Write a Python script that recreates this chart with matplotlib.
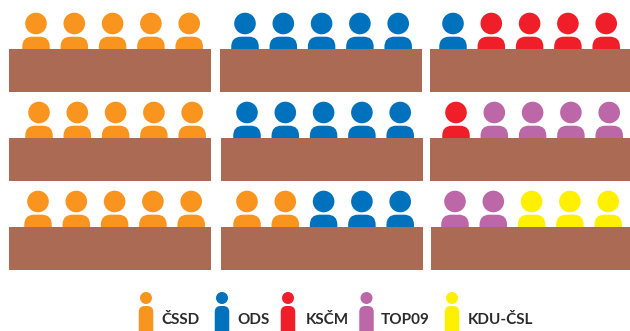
import matplotlib
matplotlib.use('Agg')
import matplotlib.pyplot as plt
from matplotlib.patches import Circle, FancyBboxPatch, Rectangle

plt.rcParams['font.family'] = ['Lato', 'DejaVu Sans']

# data
parties = ['ČSSD', 'ODS', 'KSČM', 'TOP09', 'KDU-ČSL']
colors = ['#F9951E', '#0071BC', '#F01E28', '#BC68A8', '#FFF000']
row1 = ['ČSSD'] * 5 + ['ODS'] * 5 + ['ODS'] * 1 + ['KSČM'] * 4
row2 = ['ČSSD'] * 5 + ['ODS'] * 5 + ['KSČM'] * 1 + ['TOP09'] * 4
row3 = ['ČSSD'] * 5 + ['ČSSD'] * 2 + ['ODS'] * 3 + ['TOP09'] * 2 + ['KDU-ČSL'] * 3
rows = [row1, row2, row3]
color_of = dict(zip(parties, colors))

# layout in pixels
table_color = '#AA6A54'
table_tops = [49, 138, 227]
table_lefts = [[9, 220, 430], [9, 221, 430], [9, 221, 431]]
first_seat = [[36, 245, 453], [39, 247, 456], [38, 247, 455]]
seat_step = 38.3
legend_x = [146, 222, 288, 366.5, 452]
label_x = [161, 237, 306, 381, 468]

fig = plt.figure(figsize=(6.3, 3.31), dpi=100)
ax = fig.add_axes([0, 0, 1, 1])
ax.set_xlim(0, 630)
ax.set_ylim(331, 0)
ax.axis('off')


def person(x, top, head_r, body_w, gap, body_h, round_r, color):
    ax.add_patch(Circle((x, top + head_r), head_r, fc=color, ec='none', zorder=2))
    ax.add_patch(FancyBboxPatch((x - body_w / 2, top + 2 * head_r + gap), body_w, body_h,
                                boxstyle='round,pad=0,rounding_size=%g' % round_r,
                                mutation_aspect=1, fc=color, ec='none', zorder=2))


for r, row in enumerate(rows):
    top = table_tops[r]
    for t in range(3):
        seats = row[t * 5:(t + 1) * 5]
        for i, party in enumerate(seats):
            person(first_seat[r][t] + i * seat_step, top - 36.3, 10.8, 27.5, 2.4, 40, 10,
                   color_of[party])
        ax.add_patch(Rectangle((table_lefts[r][t], top), 202, 43, fc=table_color, ec='none', zorder=3))

# legend
for x, lx, party, color in zip(legend_x, label_x, parties, colors):
    person(x, 292, 6, 14.5, 2, 45, 6, color)
    ax.text(lx, 320, party, fontsize=11, fontweight='bold', color='#2B2B2B', va='center', ha='left')

fig.savefig('out.png', dpi=100)
